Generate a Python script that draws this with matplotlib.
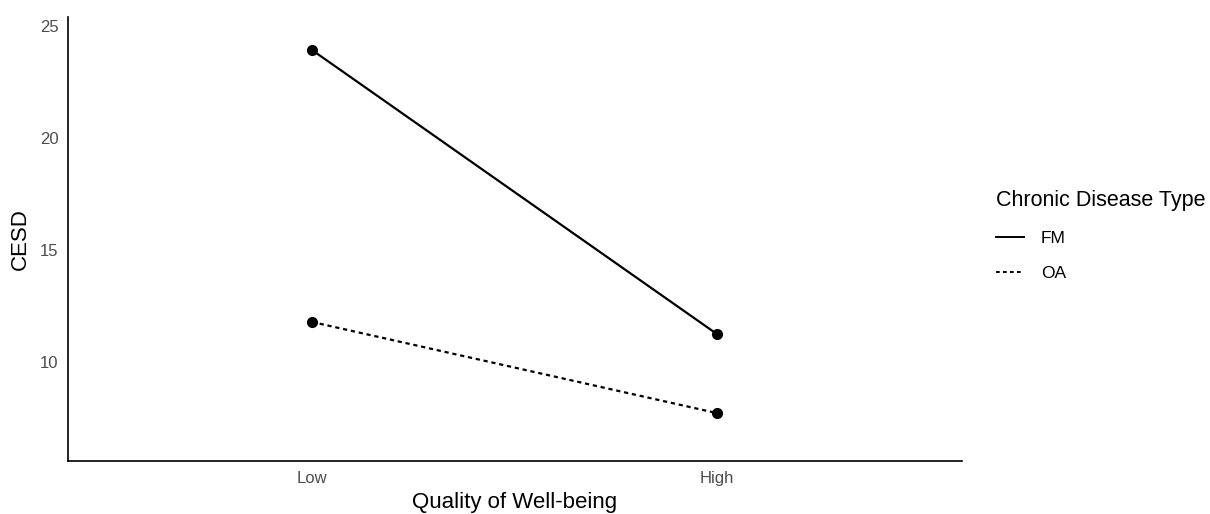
import matplotlib
matplotlib.use('Agg')
import matplotlib.pyplot as plt
from matplotlib.lines import Line2D

plt.rcParams['font.family'] = ['Liberation Sans', 'DejaVu Sans']

# ─── Data ───
categories = ['Low', 'High']
fm_cesd = [23.93, 11.25]
oa_cesd = [11.79, 7.72]
groups = ['FM', 'OA']

dash = (0, (1.9, 1.7))

fig = plt.figure(figsize=(12.1, 5.14), dpi=100)
ax = fig.add_axes([0.0562, 0.103, 0.7388, 0.864])

x = list(range(1, len(categories) + 1))
ax.plot(x, fm_cesd, '-', color='black', linewidth=1.6)
ax.plot(x, oa_cesd, linestyle=dash, color='black', linewidth=1.6)
ax.plot(x, fm_cesd, 'o', color='black', markersize=7)
ax.plot(x, oa_cesd, 'o', color='black', markersize=7)

ax.set_xlim(0.398, 2.605)
ax.set_ylim(5.58, 25.4)
ax.set_xticks(x)
ax.set_xticklabels(categories)
ax.set_yticks([10, 15, 20, 25])
ax.tick_params(length=0, labelsize=12, colors='#4d4d4d', pad=7)
for s in ['top', 'right']:
    ax.spines[s].set_visible(False)
for s in ['left', 'bottom']:
    ax.spines[s].set_linewidth(1.2)
ax.set_xlabel('Quality of Well-being', fontsize=16, labelpad=4.5)
ax.set_ylabel('CESD', fontsize=16, labelpad=6)

handles = [Line2D([], [], color='black', linewidth=1.4, linestyle='-'),
           Line2D([], [], color='black', linewidth=1.4, linestyle=dash)]
leg = fig.legend(handles, groups, title='Chronic Disease Type',
                 loc='upper left', bbox_to_anchor=(0.81, 0.661),
                 frameon=False, fontsize=12.5, title_fontsize=15.5,
                 handlelength=1.6, handletextpad=1.0, labelspacing=1.15)
leg._legend_box.align = 'left'
leg._legend_box._children[1].sep = 12

fig.savefig('out.png', dpi=100)
